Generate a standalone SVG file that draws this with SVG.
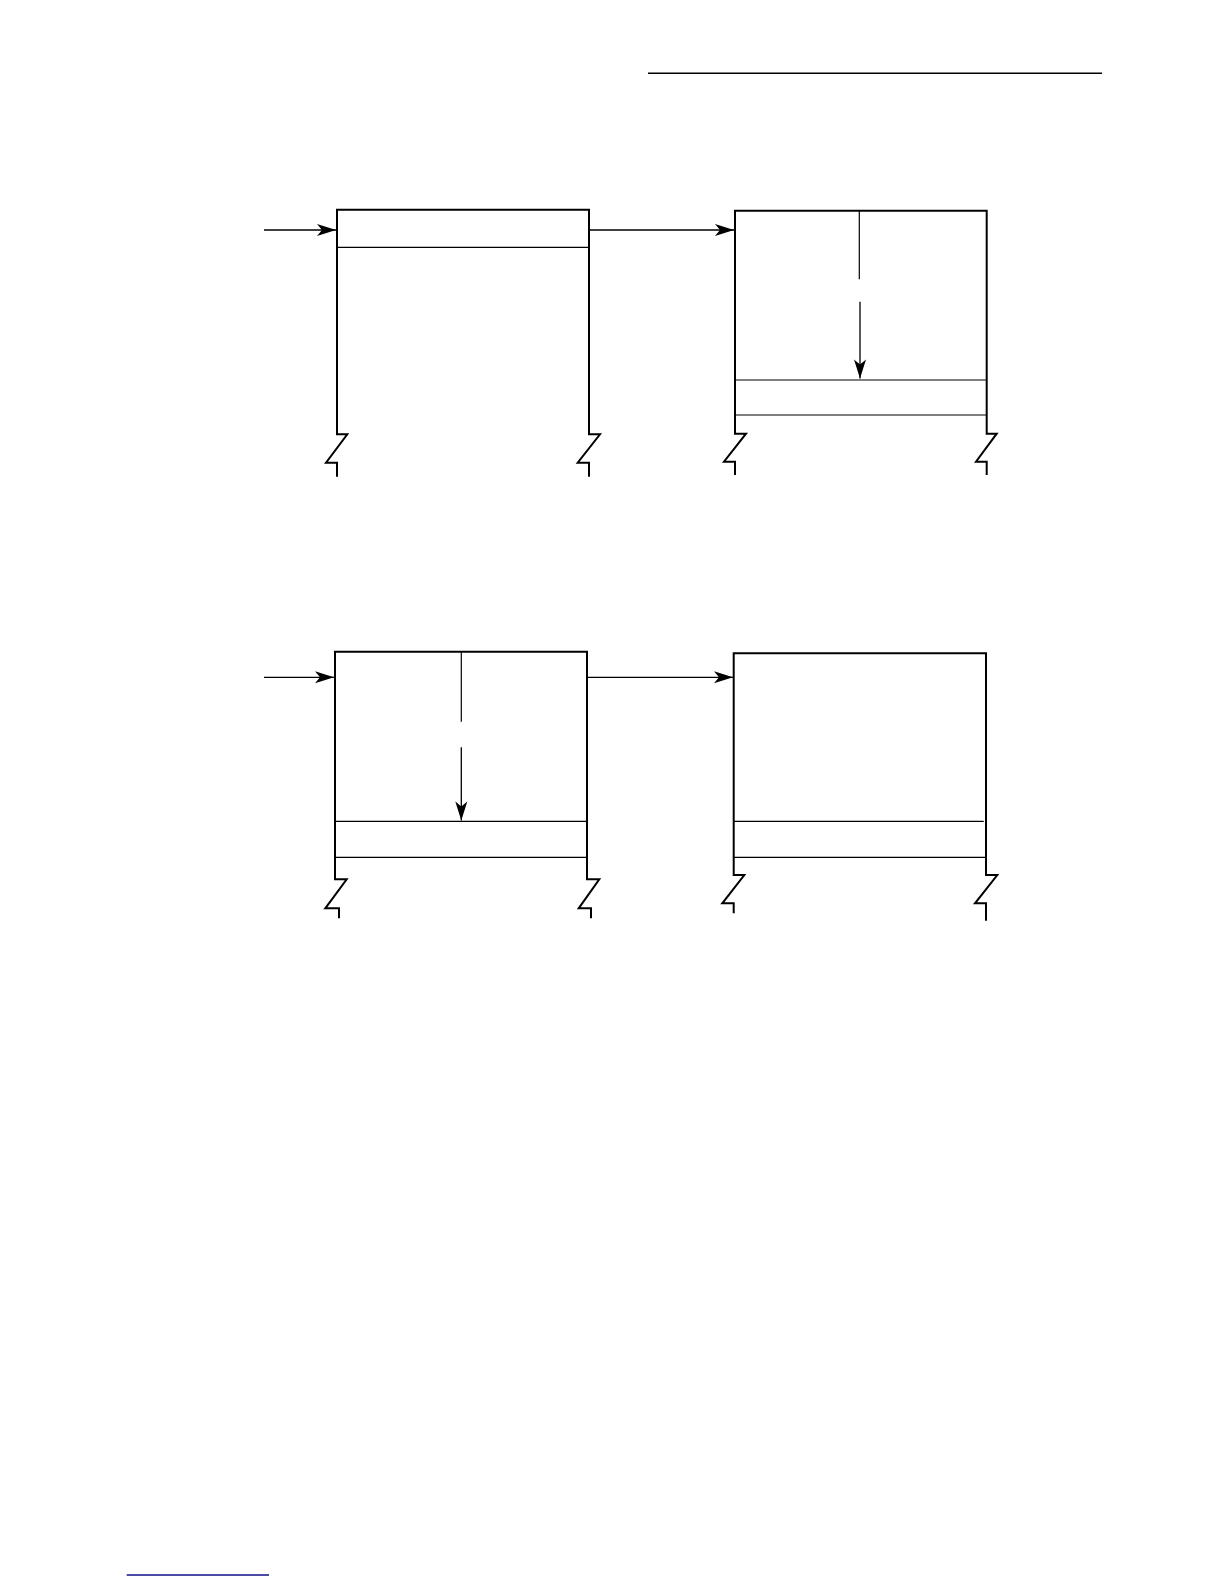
<svg xmlns="http://www.w3.org/2000/svg" width="1224" height="1584" viewBox="0 0 1224 1584">
<style>
.frame{fill:none;stroke:#000;stroke-width:2;stroke-linejoin:miter}
.div{stroke:#000;stroke-width:1.2;fill:none}
.conn{stroke:#000;stroke-width:1.3;fill:none;marker-end:url(#ah)}
.rule{stroke:#000;stroke-width:1.5}
</style>
<defs>
<marker id="ah" viewBox="-20 -7 21 14" refX="0" refY="0" markerWidth="21" markerHeight="14" markerUnits="userSpaceOnUse" orient="auto">
<path d="M0,0 L-19,-6 L-14,0 L-19,6 Z" fill="#000"/>
</marker>
</defs>
<rect width="1224" height="1584" fill="#fff"/>
<line class="rule" x1="648" y1="73.3" x2="1102" y2="73.3"/>
<line x1="126.7" y1="1575" x2="269" y2="1575" stroke="#10108a" stroke-width="1.5"/>
<g id="box1">
<path class="frame" d="M337,476.7 L337,462.7 L326,462.7 L347.3,434.3 L337,434.3 L337,209.7 L589,209.7 L589,434.3 L600,434.3 L577.7,462.7 L589,462.7 L589,476.7"/>
<line class="div" x1="337" y1="247.3" x2="589" y2="247.3"/>
</g>
<g id="box2">
<path class="frame" d="M735,475 L735,461.7 L724,461.7 L746,433.7 L735,433.7 L735,210.7 L986.7,210.7 L986.7,433.7 L996.7,433.7 L976,461.7 L986.7,461.7 L986.7,475"/>
<line class="div" x1="735" y1="380" x2="986.7" y2="380"/>
<line class="div" x1="735" y1="415" x2="986.7" y2="415"/>
</g>
<g id="box3">
<path class="frame" d="M339,918.3 L339,908.3 L325.3,908.3 L346.7,879.3 L335,879.3 L335,651.7 L587,651.7 L587,879.3 L599.3,879.3 L578.7,908.3 L591,908.3 L591,918.3"/>
<line class="div" x1="335" y1="821.3" x2="587" y2="821.3"/>
<line class="div" x1="335" y1="857.3" x2="587" y2="857.3"/>
</g>
<g id="box4">
<path class="frame" d="M733.7,913.3 L733.7,903.3 L722.3,903.3 L744.3,875 L733.7,875 L733.7,653.3 L986,653.3 L986,875 L997.3,875 L975,903.3 L986,903.3 L986,920.7"/>
<line class="div" x1="733.7" y1="821.3" x2="983.7" y2="821.3"/>
<line class="div" x1="733.7" y1="857.3" x2="986" y2="857.3"/>
</g>
<g id="connectors">
<line class="conn" x1="264" y1="230" x2="336" y2="230"/>
<line class="conn" x1="589" y1="230" x2="734" y2="230"/>
<line class="div" x1="859.3" y1="210.7" x2="859.3" y2="279.3"/>
<line class="conn" x1="860" y1="301.7" x2="860" y2="378.5"/>
<line class="conn" x1="264" y1="677.3" x2="334" y2="677.3"/>
<line class="conn" x1="587" y1="677.3" x2="733" y2="677.3"/>
<line class="div" x1="461.3" y1="651.7" x2="461.3" y2="721.7"/>
<line class="conn" x1="461.3" y1="747.3" x2="461.3" y2="820.5"/>
</g>
</svg>
